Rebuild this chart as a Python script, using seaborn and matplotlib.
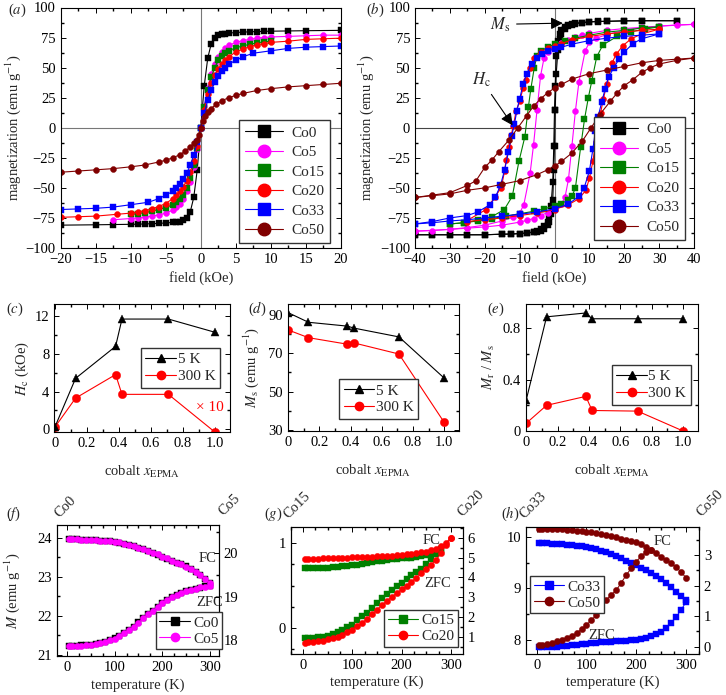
import matplotlib
matplotlib.use('Agg')
import matplotlib.pyplot as plt
from matplotlib.lines import Line2D
from matplotlib.ticker import MultipleLocator
import seaborn as sns

# ---------------- data ----------------
SAMPLES = ['Co0', 'Co5', 'Co15', 'Co20', 'Co33', 'Co50']
COLORS = ['#000000', '#ff00ff', '#008000', '#ff0000', '#0000ff', '#800000']
MARKERS = ['s', 'o', 's', 'o', 's', 'o']

# (a) 300 K loops
A_CO0_H = [-20, -15, -12.5, -10, -9, -8, -7, -6, -5, -4, -3.5, -3, -2.5, -2, -1.5, -1, -0.5, 0,
           0.5, 1, 1.5, 2, 2.5, 3, 3.5, 4, 5, 6, 7, 8, 9, 10, 12.5, 15, 20]
A_CO0_M = [-81, -80.7, -80.5, -80.3, -80.2, -80, -79.8, -79.5, -79.2, -78.7, -78.3, -78, -77, -75,
           -70, -58, -35, 0, 35, 58, 70, 75, 77, 78, 78.3, 78.7, 79.2, 79.5, 79.8, 80, 80.2, 80.3,
           80.5, 80.7, 81]
A_CO5_H = [-12.5, -10, -9, -8, -7, -6, -5, -4, -3.5, -3, -2.5, -2, -1.5, -1, -0.5, 0,
           0.5, 1, 1.5, 2, 2.5, 3, 3.5, 4, 5, 6, 7, 8, 9, 10, 12.5, 15, 17.5, 20]
A_CO5_M = [-76.5, -75.5, -75, -74.5, -73.5, -72.5, -71, -68.5, -66, -63, -59, -53, -45, -33, -18, 0,
           18, 33, 45, 53, 59, 63, 66, 68.5, 71, 72.5, 73.5, 74.5, 75, 75.5, 76, 76.5, 77, 77]
A_CO15_H = [-10, -9, -8, -7, -6, -5, -4, -3.5, -3, -2.5, -2, -1.5, -1, -0.5, 0,
            0.5, 1, 1.5, 2, 2.5, 3, 3.5, 4, 5, 6, 7, 8, 9, 10]
A_CO15_M = [-72, -71.5, -70.5, -69.5, -68, -66.5, -64, -62, -59.5, -56, -50, -42, -31, -17, 0,
            17, 31, 42, 50, 56, 59.5, 62, 64, 66.5, 68, 69.5, 70.5, 71.5, 72]
A_CO20_H = [-20, -17.5, -15, -12, -10, -9, -8, -7, -6, -5, -4, -3.5, -3, -2.5, -2, -1.5, -1, -0.5, 0,
            0.5, 1, 1.5, 2, 2.5, 3, 3.5, 4, 5, 6, 7, 8, 9, 10, 12.5, 15, 17.5, 20]
A_CO20_M = [-74.5, -74, -73.5, -72, -71, -70, -69, -67.5, -65.5, -63, -59, -56, -53, -49, -44, -37,
            -28, -15, 0, 15, 28, 37, 44, 49, 53, 56, 59, 63, 65.5, 67.5, 69, 70, 71, 72, 73.5, 74, 74.5]
A_CO33_H = [-20, -17.5, -15, -12.5, -10, -7.5, -6, -5, -4, -3.5, -3, -2.5, -2, -1.5, -1, -0.5, 0,
            0.5, 1, 1.5, 2, 2.5, 3, 3.5, 4, 5, 6, 7.5, 10, 12.5, 15, 17.5, 20]
A_CO33_M = [-68, -67.5, -67, -66, -64, -62, -59, -56, -53, -50, -47, -43, -38, -31, -23, -12, 0,
            12, 23, 31, 38, 43, 47, 50, 53, 56, 59, 62, 64, 66, 67, 67.5, 68]
A_CO50_H = [-20, -17.5, -15, -12.5, -10, -8, -6, -5, -4, -3, -2.2, -1.5, -1, -0.6, -0.3, 0,
            0.3, 0.6, 1, 1.5, 2.2, 3, 4, 5, 6, 8, 10, 12.5, 15, 17.5, 20]
A_CO50_M = [-37, -36, -35, -34, -32.5, -31, -28.5, -27, -25, -22.5, -19.5, -16, -13, -10, -6, 0,
            6, 10, 13, 16, 19.5, 22.5, 25, 27, 28.5, 31, 32.5, 34, 35, 36, 37]

# (b) 5 K loops: descending (up) and ascending (dn) branches
B_CO0_UP_H = [35, 25, 20, 15, 12.5, 10, 8, 6, 5, 4, 3, 2, 1.5, 1, 0.5, 0.2, 0, -0.2, -0.5, -1,
              -1.5, -2, -3, -4, -5, -6, -8, -10, -12.5, -15, -20, -25, -30, -35, -40]
B_CO0_UP_M = [89, 89, 88.8, 88.5, 88.3, 88, 87.5, 87, 86.5, 85.5, 84, 81, 78, 72, 60, 35, 15, -15,
              -45, -65, -74, -78, -82, -84.5, -85.5, -86.5, -87.5, -88, -88.5, -88.5, -89, -89,
              -89, -89, -89]
B_CO0_DN_H = [-40, -35, -30, -25, -20, -15, -12.5, -10, -8, -6, -5, -4, -3, -2, -1.5, -1, -0.5,
              -0.2, 0, 0.2, 0.5, 1, 1.5, 2, 3, 4, 5, 6, 8, 10, 12.5, 15, 20, 25, 35]
B_CO0_DN_M = [-89, -89, -89, -89, -89, -88.5, -88.3, -88, -87.5, -87, -86.5, -85.5, -84, -81, -78,
              -72, -60, -35, -15, 15, 45, 65, 74, 78, 82, 84.5, 85.5, 86.5, 87.5, 88, 88.5, 88.5,
              89, 89, 89]
B_CO5_UP_H = [40, 30, 25, 20, 15, 10, 8, 6, 4, 2, 0, -2, -3, -4, -5, -6, -7, -8.8, -10, -12,
              -15, -20, -25, -30, -35, -40]
B_CO5_UP_M = [86, 84.5, 83.5, 82.5, 81, 78.5, 77, 75.5, 73, 70.5, 67.5, 63, 58, 43, 15, -14, -38,
              -64, -71, -74.5, -77.5, -81, -83, -84.5, -85.5, -86]
B_CO5_DN_H = [-40, -30, -25, -20, -15, -10, -8, -6, -4, -2, 0, 2, 3, 4, 5, 6, 7, 8.8, 10, 12,
              15, 20, 25, 30, 35, 40]
B_CO5_DN_M = [-86, -84.5, -83.5, -82.5, -81, -78.5, -77, -75.5, -73, -70.5, -67.5, -63, -58, -43,
              -15, 14, 38, 64, 71, 74.5, 77.5, 81, 83, 84.5, 85.5, 86]
B_CO15_UP_H = [30, 25, 20, 15, 10, 6, 3, 0, -2, -4, -5, -5.8, -6.8, -7.5, -8.5, -10.2, -12.1,
               -14.4, -18, -22, -26, -30]
B_CO15_UP_M = [84, 83, 81, 79.5, 77, 74.5, 72, 69.5, 67, 63.5, 60, 50, 32, 17, -7.5, -28, -57,
               -68, -74, -77, -79, -80]
B_CO15_DN_H = [-30, -26, -22, -18, -14, -10, -6, -3, 0, 2, 4, 5, 6, 7.5, 8.6, 9.7, 10.7, 12.1,
               13.9, 18, 22, 26, 30]
B_CO15_DN_M = [-80, -79, -77.5, -75.5, -73.5, -71.5, -69.5, -67.5, -65, -63, -60, -57, -50, -16,
               7, 25, 39, 59, 69, 76, 80, 82, 84]
B_CO20_UP_H = [30, 25, 20, 15, 10, 5, 2, 0, -2, -4, -6, -7, -8.1, -9, -10, -11, -11.8, -12.4,
               -13, -13.9, -14.3, -15.3, -17.2, -19.6, -25]
B_CO20_UP_M = [82, 81, 79.5, 78, 76, 73, 70, 68, 66, 63, 58, 50, 40, 33, 22, 14, 1.7, -6, -16,
               -27, -36, -50, -58, -68, -77]
B_CO20_DN_H = [-25, -20, -15, -10, -5, 0, 4, 7, 9, 10, 11, 11.8, 12.5, 13.2, 14, 15, 16.5, 17.7,
               19.5, 22, 25, 30]
B_CO20_DN_M = [-78, -76.5, -75, -73, -71, -68, -64, -59, -52, -42, -28, -12, 0, 12, 24, 36, 54,
               61, 68, 74, 78, 82]
B_CO33_UP_H = [30, 25, 20, 15, 10, 5, 2, 0, -2, -3.5, -5, -6.5, -8, -9, -10, -10.8, -11.5, -12.3,
               -13.2, -14.3, -15.5, -17, -18.5, -22, -25, -30, -35, -40]
B_CO33_UP_M = [78, 77, 76, 74.5, 72.5, 69.5, 67, 65.5, 63.5, 61, 58, 53, 45, 36, 24, 14, 3, -7,
               -20, -35, -48, -58, -64, -70, -73, -75, -78, -80]
B_CO33_DN_H = [-40, -35, -30, -25, -20, -15, -10, -5, 0, 4, 7, 8.5, 10, 11, 11.7, 12.5, 13.5,
               14.5, 15.5, 17, 18.5, 20, 22.5, 25, 30]
B_CO33_DN_M = [-80, -79, -77.5, -76.5, -75, -73.5, -72, -70, -67.5, -63.5, -57, -50, -36, -18, -3,
               9, 21, 32, 42, 50, 57, 63, 70, 74, 78]
B_CO50_UP_H = [40, 35, 30, 25, 20, 15, 10, 5, 2, 0, -2, -4, -6, -8, -10.5, -13, -16, -18, -20,
               -22.5, -25, -30, -35, -40]
B_CO50_UP_M = [58, 57, 56, 54, 51, 48, 45, 40.5, 36, 33, 29, 24, 18, 10, 0, -10, -20, -27, -33,
               -44, -48, -54, -56, -58]
B_CO50_DN_H = [-40, -35, -30, -25, -20, -15, -10, -5, -2, 0, 2, 5, 8, 10.5, 13, 16, 18, 20, 22.5,
               25, 27.5, 30, 35, 40]
B_CO50_DN_M = [-58, -56.5, -55, -52, -50, -47, -44, -39, -35, -32, -28, -21, -11, 0, 11, 22, 29,
               35, 40, 46, 50, 53, 56, 58]

# (c)-(e) versus cobalt content
X_EPMA = [0, 0.13, 0.38, 0.42, 0.71, 1.0]
HC_5K = [0.2, 5.4, 8.8, 11.7, 11.7, 10.3]
HC_300K = [0.2, 3.3, 5.8, 3.7, 3.7, -0.3]      # plotted x10
MS_5K = [91, 86, 84, 83, 78.4, 57]
MS_300K = [82, 78, 74.6, 75.3, 69.5, 34]
MRMS_5K = [0.24, 0.89, 0.92, 0.875, 0.875, 0.875]
MRMS_300K = [0.06, 0.20, 0.27, 0.16, 0.155, 0.0]

# (f)-(h) FC / ZFC
TEMP = [5, 10, 20, 30, 40, 50, 60, 70, 80, 90, 100, 110, 120, 130, 140, 150, 160, 170, 180,
        190, 200, 210, 220, 230, 240, 250, 260, 270, 280, 290, 300]
F_CO0_FC = [23.95, 23.95, 23.95, 23.94, 23.94, 23.93, 23.93, 23.92, 23.91, 23.90,
            23.89, 23.87, 23.84, 23.81, 23.78, 23.74, 23.70, 23.65, 23.61, 23.56,
            23.51, 23.46, 23.41, 23.36, 23.31, 23.26, 23.19, 23.11, 23.03, 22.94, 22.84]
F_CO0_ZFC = [21.22, 21.23, 21.23, 21.24, 21.25, 21.26, 21.28, 21.30, 21.33, 21.37,
             21.42, 21.48, 21.55, 21.63, 21.72, 21.83, 21.94, 22.04, 22.13, 22.23,
             22.32, 22.40, 22.47, 22.53, 22.58, 22.62, 22.66, 22.69, 22.72, 22.75, 22.77]
F_CO5_FC = [20.32, 20.32, 20.32, 20.31, 20.31, 20.30, 20.30, 20.29, 20.28, 20.27,
            20.26, 20.25, 20.22, 20.19, 20.16, 20.13, 20.09, 20.05, 20.01, 19.97,
            19.92, 19.88, 19.83, 19.78, 19.74, 19.69, 19.63, 19.56, 19.49, 19.40, 19.31]
F_CO5_ZFC = [17.85, 17.86, 17.86, 17.87, 17.88, 17.89, 17.91, 17.92, 17.95, 17.99,
             18.03, 18.09, 18.15, 18.22, 18.30, 18.40, 18.50, 18.59, 18.67, 18.76,
             18.85, 18.92, 18.98, 19.03, 19.08, 19.12, 19.15, 19.18, 19.21, 19.23, 19.25]
G_CO15_FC = [0.71, 0.71, 0.71, 0.71, 0.71, 0.71, 0.715, 0.72, 0.725, 0.73,
             0.74, 0.745, 0.755, 0.765, 0.775, 0.785, 0.795, 0.80, 0.81, 0.815,
             0.82, 0.825, 0.83, 0.84, 0.847, 0.86, 0.88, 0.90, 0.92]
G_CO15_ZFC = [-0.12, -0.12, -0.115, -0.11, -0.10, -0.09, -0.07, -0.045, -0.02, 0.01,
              0.04, 0.09, 0.14, 0.18, 0.24, 0.29, 0.35, 0.40, 0.45, 0.49,
              0.53, 0.58, 0.62, 0.66, 0.70, 0.75, 0.81, 0.87, 0.93]
G_CO20_FC = [4.95, 4.95, 4.95, 4.95, 4.96, 4.96, 4.97, 4.98, 4.99, 5.00,
             5.01, 5.02, 5.03, 5.04, 5.05, 5.06, 5.07, 5.08, 5.10, 5.12,
             5.14, 5.16, 5.19, 5.22, 5.26, 5.31, 5.37, 5.45, 5.57, 5.75, 6.00]
G_CO20_ZFC = [0.70, 0.71, 0.73, 0.76, 0.80, 0.86, 0.93, 1.00, 1.10, 1.22,
              1.36, 1.52, 1.70, 1.90, 2.13, 2.36, 2.59, 2.81, 3.01, 3.20,
              3.39, 3.58, 3.78, 3.98, 4.20, 4.41, 4.63, 4.88, 5.22, 5.65, 6.00]
H_CO33_FC = [9.88, 9.88, 9.88, 9.87, 9.87, 9.86, 9.85, 9.84, 9.83, 9.82,
             9.80, 9.78, 9.76, 9.73, 9.70, 9.67, 9.63, 9.59, 9.54, 9.50,
             9.45, 9.40, 9.35, 9.30, 9.24, 9.18, 9.11, 9.03, 8.94, 8.85, 8.77]
H_CO33_ZFC = [7.87, 7.87, 7.87, 7.87, 7.87, 7.88, 7.89, 7.90, 7.91, 7.92,
              7.93, 7.94, 7.95, 7.96, 7.97, 7.97, 7.98, 7.98, 7.99, 8.00,
              8.01, 8.02, 8.04, 8.07, 8.11, 8.16, 8.24, 8.33, 8.45, 8.58, 8.74]
H_CO50_FC = [3.87, 3.87, 3.86, 3.86, 3.85, 3.84, 3.83, 3.81, 3.79, 3.78,
             3.76, 3.74, 3.71, 3.68, 3.65, 3.62, 3.58, 3.54, 3.50, 3.47,
             3.42, 3.36, 3.27, 3.17, 3.06, 2.95, 2.84, 2.73, 2.60, 2.45, 2.25]
H_CO50_ZFC = [0.05, 0.06, 0.08, 0.12, 0.17, 0.22, 0.29, 0.36, 0.44, 0.57,
              0.71, 0.87, 1.04, 1.28, 1.53, 1.70, 1.85, 2.10, 2.35, 2.57,
              2.78, 2.97, 3.10, 3.16]

# ---------------- style ----------------
sns.set_theme(style='ticks')
plt.rcParams.update({
    'font.family': 'serif',
    'font.serif': ['Liberation Serif', 'DejaVu Serif'],
    'mathtext.fontset': 'stix',
    'font.size': 10,
    'axes.linewidth': 0.8,
    'axes.edgecolor': 'black',
    'xtick.direction': 'in', 'ytick.direction': 'in',
    'xtick.top': True, 'ytick.right': True,
    'xtick.major.size': 3.5, 'ytick.major.size': 3.5,
    'xtick.minor.size': 2, 'ytick.minor.size': 2,
    'xtick.major.width': 0.7, 'ytick.major.width': 0.7,
    'xtick.labelsize': 10.5, 'ytick.labelsize': 10.5,
    'xtick.color': 'black', 'ytick.color': 'black',
    'legend.fancybox': False, 'legend.framealpha': 1, 'legend.edgecolor': '#333333',
})

W, H = 726, 695
fig = plt.figure(figsize=(W / 100, H / 100), dpi=100)


def add_ax(x0, y0, x1, y1):
    """Axes from pixel box (left, top, right, bottom)."""
    return fig.add_axes([x0 / W, 1 - y1 / H, (x1 - x0) / W, (y1 - y0) / H])


def curve(ax, x, y, color, marker, ms=4.3, lw=0.8, z=2):
    sns.lineplot(x=x, y=y, ax=ax, color=color, marker=marker, markersize=ms,
                 markeredgecolor=color, markeredgewidth=0.3, linewidth=lw,
                 sort=False, estimator=None, legend=False, zorder=z)


def handle(color, marker, ms):
    return Line2D([], [], color=color, marker=marker, markersize=ms, lw=0.8)


def minor(ax, xm, ym):
    ax.xaxis.set_minor_locator(MultipleLocator(xm))
    ax.yaxis.set_minor_locator(MultipleLocator(ym))
    ax.tick_params(which='both', top=True, right=True, direction='in')


big_leg = dict(loc='lower right', borderaxespad=0, fontsize=11, handlelength=2.5,
               labelspacing=0.38, borderpad=0.4, handletextpad=0.5)

# ---------------- (a) ----------------
ax = add_ax(60.5, 7.5, 341, 248)
ax.axhline(0, color='#777777', lw=0.8, zorder=1)
ax.axvline(0, color='#777777', lw=0.8, zorder=1)
a_sets = [(A_CO0_H, A_CO0_M), (A_CO5_H, A_CO5_M), (A_CO15_H, A_CO15_M),
          (A_CO20_H, A_CO20_M), (A_CO33_H, A_CO33_M), (A_CO50_H, A_CO50_M)]
for (hh, mm), c, m in zip(a_sets, COLORS, MARKERS):
    curve(ax, hh, mm, c, m)
ax.set_xlim(-20, 20)
ax.set_ylim(-100, 100)
ax.set_xticks(range(-20, 21, 5))
ax.set_yticks(range(-100, 101, 25))
minor(ax, 2.5, 12.5)
ax.set_xlabel('field (kOe)', fontsize=10.5)
ax.set_ylabel('magnetization (emu g$^{-1}$)', fontsize=10.5)
ax.yaxis.set_label_coords(-0.135, 0.5)
ax.legend([handle(c, m, 9) for c, m in zip(COLORS, MARKERS)], SAMPLES,
          bbox_to_anchor=(0.961, 0.02), **big_leg)
fig.text(8 / W, 1 - 10 / H, '($a$)', fontsize=10.5, va='center', ha='left')

# ---------------- (b) ----------------
ax = add_ax(415, 7.5, 694, 248)
ax.axhline(0, color='#444444', lw=0.8, zorder=1)
ax.axvline(0, color='#777777', lw=0.8, zorder=1)
b_sets = [(B_CO0_UP_H, B_CO0_UP_M, B_CO0_DN_H, B_CO0_DN_M),
          (B_CO5_UP_H, B_CO5_UP_M, B_CO5_DN_H, B_CO5_DN_M),
          (B_CO15_UP_H, B_CO15_UP_M, B_CO15_DN_H, B_CO15_DN_M),
          (B_CO20_UP_H, B_CO20_UP_M, B_CO20_DN_H, B_CO20_DN_M),
          (B_CO33_UP_H, B_CO33_UP_M, B_CO33_DN_H, B_CO33_DN_M),
          (B_CO50_UP_H, B_CO50_UP_M, B_CO50_DN_H, B_CO50_DN_M)]
for (uh, um, dh, dm), c, m in zip(b_sets, COLORS, MARKERS):
    curve(ax, uh, um, c, m)
    curve(ax, dh, dm, c, m)
ax.set_xlim(-40, 40)
ax.set_ylim(-100, 100)
ax.set_xticks(range(-40, 41, 10))
ax.set_yticks(range(-100, 101, 25))
minor(ax, 5, 12.5)
ax.set_xlabel('field (kOe)', fontsize=10.5)
ax.set_ylabel('magnetization (emu g$^{-1}$)', fontsize=10.5)
ax.yaxis.set_label_coords(-0.14, 0.5)
ax.legend([handle(c, m, 9) for c, m in zip(COLORS, MARKERS)], SAMPLES,
          bbox_to_anchor=(0.968, 0.033), **big_leg)
arrow = dict(arrowstyle='-|>', color='black', lw=0.8, mutation_scale=18, shrinkA=2, shrinkB=0)
ax.annotate('$M_\\mathrm{s}$', xy=(2.4, 87), xytext=(-15.5, 86), fontsize=12,
            ha='center', va='center', arrowprops=arrow)
ax.annotate('$H_\\mathrm{c}$', xy=(-12, 2), xytext=(-21, 40), fontsize=12,
            ha='center', va='center', arrowprops=arrow)
fig.text(366 / W, 1 - 10 / H, '($b$)', fontsize=10.5, va='center', ha='left')

# ---------------- (c), (d), (e) ----------------
leg_kw = dict(borderaxespad=0, fontsize=11, handlelength=2.0, labelspacing=0.2,
              borderpad=0.3, handletextpad=0.1)
mid = [
    ((54.3, 304, 230, 432), HC_5K, HC_300K, (-0.3, 13.3), [0, 4, 8, 12], 2,
     '$H_\\mathrm{c}$ (kOe)', -0.13, ('upper right', (0.943, 0.656)), '($c$)', 6),
    ((287.7, 304, 459, 431), MS_5K, MS_300K, (29.5, 95.5), [30, 50, 70, 90], 10,
     '$M_\\mathrm{s}$ (emu g$^{-1}$)', -0.155, ('lower right', (0.761, 0.094)), '($d$)', 248),
    ((525.7, 304, 698, 431), MRMS_5K, MRMS_300K, (0, 0.99), [0, 0.4, 0.8], 0.2,
     '$M_\\mathrm{r}$ / $M_\\mathrm{s}$', -0.165, ('upper right', (0.959, 0.52)), '($e$)', 487),
]
for box, y5, y300, ylim, yt, ym, ylab, ylx, (lloc, lbb), tag, tx in mid:
    ax = add_ax(*box)
    curve(ax, X_EPMA, y5, 'black', '^', ms=6, z=3)
    curve(ax, X_EPMA, y300, '#ff0000', 'o', ms=6, z=2)
    ax.set_xlim(-0.003, 1.095)
    ax.set_ylim(*ylim)
    ax.set_xticks([0, 0.2, 0.4, 0.6, 0.8, 1.0])
    ax.set_xticklabels(['0', '0.2', '0.4', '0.6', '0.8', '1.0'])
    ax.set_yticks(yt)
    ax.set_yticklabels([f'{v:g}' for v in yt])
    minor(ax, 0.1, ym)
    ax.set_xlabel('cobalt $x_\\mathrm{EPMA}$', fontsize=10.5)
    ax.xaxis.set_label_coords(0.5, -0.25)
    ax.set_ylabel(ylab, fontsize=10.5)
    ax.yaxis.set_label_coords(ylx, 0.5)
    ax.legend([handle('black', '^', 6), handle('#ff0000', 'o', 6)], ['5 K', '300 K'],
              loc=lloc, bbox_to_anchor=lbb, **leg_kw)
    fig.text(tx / W, 1 - 309 / H, tag, fontsize=10.5, va='center', ha='left')
    if tag == '($c$)':
        ax.text(0.886, 0.195, '× 10', color='#ff0000', fontsize=11, ha='center',
                va='center', transform=ax.transAxes)

# ---------------- (f), (g), (h) ----------------
bottom = [
    dict(box=(57, 525, 219, 656), xlim=(-21, 319),
         left=(F_CO0_FC, F_CO0_ZFC, 0), right=(F_CO5_FC, F_CO5_ZFC, 1),
         lylim=(20.97, 24.32), rylim=(17.63, 20.65), lt=[21, 22, 23, 24], rt=[18, 19, 20],
         lm=0.5, rm=0.5, leg=('lower right', (1.02, 0.05)),
         fc=(0.932, 0.748), zfc=(0.94, 0.405), tag='($f$)', tagx=6,
         names=((65, 507), (230, 505))),
    dict(box=(290.7, 527, 462.7, 654), xlim=(-25, 324),
         left=(G_CO15_FC, G_CO15_ZFC, 2), right=(G_CO20_FC, G_CO20_ZFC, 3),
         lylim=(-0.306, 1.19), rylim=(0.124, 6.55), lt=[0, 1], rt=[1, 2, 3, 4, 5, 6],
         lm=0.25, rm=0.5, leg=('lower right', (0.973, 0.055)),
         fc=(0.821, 0.895), zfc=(0.856, 0.558), tag='($g$)', tagx=264,
         names=((297, 505), (471, 503))),
    dict(box=(526, 527, 699, 654), xlim=(-21.5, 326),
         left=(H_CO33_FC, H_CO33_ZFC, 4), right=(H_CO50_FC, H_CO50_ZFC, 5),
         lylim=(7.73, 10.19), rylim=(-0.24, 3.92), lt=[8, 9, 10], rt=[0, 1, 2, 3],
         lm=0.5, rm=0.5, leg=('upper left', (0.023, 0.614)),
         fc=(0.792, 0.882), zfc=(0.439, 0.142), tag='($h$)', tagx=501,
         names=((533, 505), (710, 503))),
]
for p in bottom:
    ax = add_ax(*p['box'])
    ax2 = ax.twinx()
    for a, (fc, zfc, k) in ((ax, p['left']), (ax2, p['right'])):
        curve(a, TEMP[:len(fc)], fc, COLORS[k], MARKERS[k], ms=4.5, lw=0.7)
        curve(a, TEMP[:len(zfc)], zfc, COLORS[k], MARKERS[k], ms=4.5, lw=0.7)
    ax.set_xlim(*p['xlim'])
    ax.set_ylim(*p['lylim'])
    ax2.set_ylim(*p['rylim'])
    ax.set_xticks([0, 100, 200, 300])
    ax.set_yticks(p['lt'])
    ax2.set_yticks(p['rt'])
    ax.xaxis.set_minor_locator(MultipleLocator(25))
    ax.yaxis.set_minor_locator(MultipleLocator(p['lm']))
    ax2.yaxis.set_minor_locator(MultipleLocator(p['rm']))
    ax.tick_params(which='both', direction='in', top=True, right=False)
    ax2.tick_params(which='both', direction='in', right=True, left=False)
    ax.set_xlabel('temperature (K)', fontsize=10.5)
    ax.xaxis.set_label_coords(0.5, -0.17)
    ax2.set_ylabel('')
    ax.set_ylabel('')
    k1, k2 = p['left'][2], p['right'][2]
    ax2.legend([handle(COLORS[k1], MARKERS[k1], 6), handle(COLORS[k2], MARKERS[k2], 6)],
               [SAMPLES[k1], SAMPLES[k2]], loc=p['leg'][0], bbox_to_anchor=p['leg'][1],
               borderaxespad=0, fontsize=11, handlelength=2.0, labelspacing=0.15,
               borderpad=0.25, handletextpad=0.2)
    ax.text(*p['fc'], 'FC', transform=ax.transAxes, ha='center', va='center', fontsize=10.5)
    ax.text(*p['zfc'], 'ZFC', transform=ax.transAxes, ha='center', va='center', fontsize=10.5)
    fig.text(p['tagx'] / W, 1 - 514 / H, p['tag'], fontsize=10.5, va='center', ha='left')
    for (nx, ny), k in zip(p['names'], (k1, k2)):
        fig.text(nx / W, 1 - ny / H, SAMPLES[k], rotation=45, fontsize=10.5,
                 ha='center', va='center')
    if p['tag'] == '($f$)':
        ax.set_ylabel('$M$ (emu g$^{-1}$)', fontsize=10.5)
        ax.yaxis.set_label_coords(-0.215, 0.5)

fig.savefig('out.png', dpi=100)
